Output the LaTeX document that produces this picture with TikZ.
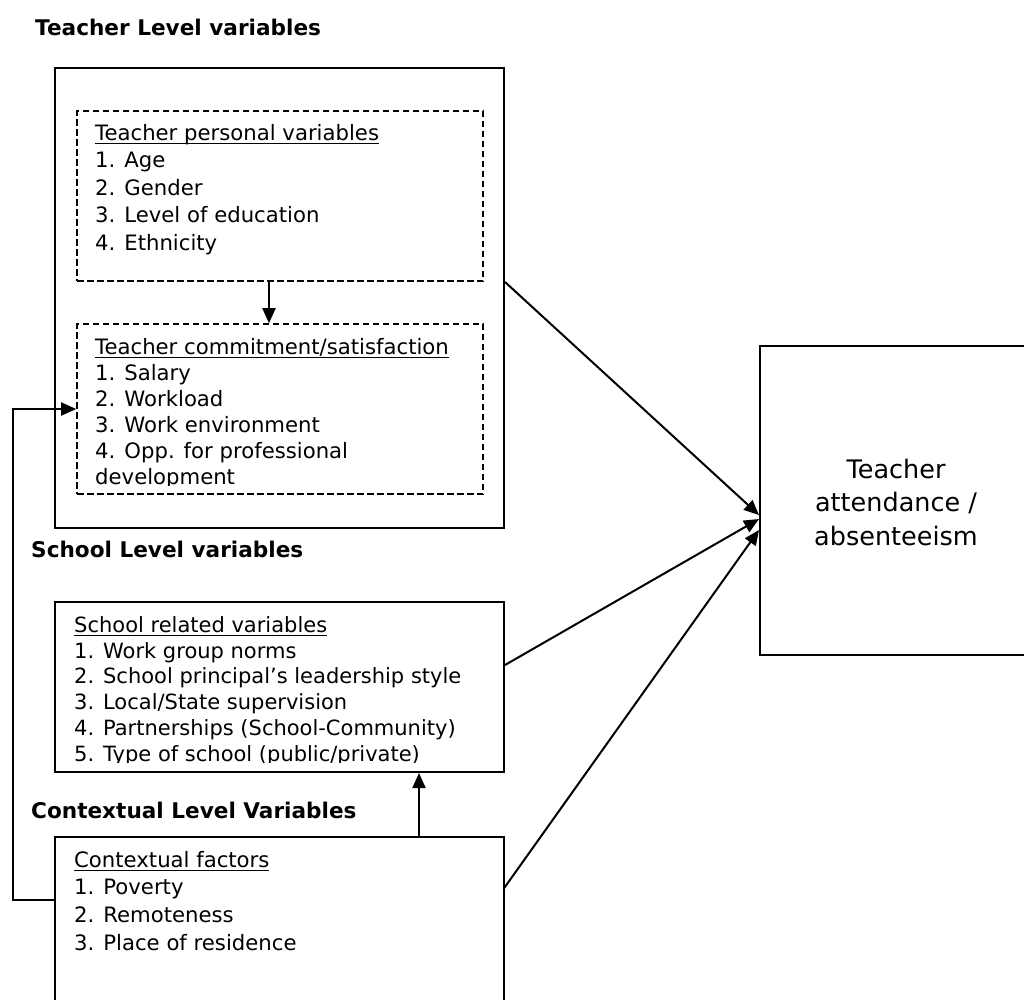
\documentclass[tikz,border=0pt]{standalone}
\usepackage{fontspec}
\setmainfont{DejaVu Sans}
\usetikzlibrary{arrows.meta,calc}
\newcommand\myul[1]{\setbox0\hbox{#1}\rlap{\rule[-4pt]{\wd0}{1.6pt}}\box0}
\begin{document}
\begin{tikzpicture}[x=1pt,y=-1pt,
  solidbx/.style={draw=black,line width=2pt,inner sep=0pt},
  dashbx/.style={draw=black,line width=1.6pt,dash pattern=on 6.5pt off 3.5pt,inner sep=0pt},
  plainbx/.style={inner sep=0pt},
  arrowln/.style={line width=2pt,-{Triangle[length=15pt,width=13pt]}},
  leveltxt/.style={inner sep=0pt,anchor=base west,font=\fontsize{21.6}{25}\selectfont\bfseries},
  bodytxt/.style={inner sep=0pt,anchor=north west,align=left}
]
\useasboundingbox (0,0) rectangle (1024,999);

% level labels
\node[leveltxt] (tlev) at (35,35) {Teacher Level variables};
\node[leveltxt] (slev) at (31,557) {School Level variables};
\node[leveltxt] (clev) at (31,818) {Contextual Level Variables};

% boxes
\node[solidbx,minimum width=449pt,minimum height=460pt] (tbox) at (279.5,298) {};
\node[dashbx,minimum width=406pt,minimum height=170pt] (pers) at (280,196) {};
\node[dashbx,minimum width=406pt,minimum height=170pt] (comm) at (280,409) {};
\node[solidbx,minimum width=449pt,minimum height=170pt] (school) at (279.5,687) {};
\node[plainbx,minimum width=449pt,minimum height=170pt] (ctx) at (279.5,922) {};
\draw[line width=2pt] (ctx.south west) -- (ctx.north west) -- (ctx.north east) -- (ctx.south east);
\node[solidbx,minimum width=290pt,minimum height=309pt] (out) at (905,500.5) {};

% texts
\node[bodytxt,font=\fontsize{21.2}{27.5}\selectfont] (perstxt) at (95,120.75)
 {\strut\myul{Teacher personal variables}\\1. Age\\2. Gender\\3. Level of education\\4. Ethnicity};

\begin{scope}
\clip (60,330) rectangle (480,485.5);
\node[bodytxt,font=\fontsize{21.2}{26}\selectfont] (commtxt) at (95,335.8)
 {\strut\myul{Teacher commitment/satisfaction}\\1. Salary\\2. Workload\\3. Work environment\\4. Opp. for professional\\development};
\end{scope}

\begin{scope}
\clip (60,605) rectangle (500,762.5);
\node[bodytxt,font=\fontsize{21}{25.8}\selectfont] (schooltxt) at (74,613.94)
 {\strut\myul{School related variables}\\1. Work group norms\\2. School principal’s leadership style\\3. Local/State supervision\\4. Partnerships (School-Community)\\5. Type of school (public/private)};
\end{scope}

\node[bodytxt,font=\fontsize{21.2}{27.7}\selectfont] (ctxtxt) at (74,847.6)
 {\strut\myul{Contextual factors}\\1. Poverty\\2. Remoteness\\3. Place of residence};

\node[inner sep=0pt,anchor=north,align=center,font=\fontsize{25.5}{33.5}\selectfont] (outtxt) at (896,454.55)
 {\strut Teacher\\attendance /\\absenteeism};

% connectors
\coordinate (ax1) at (269,300);
\coordinate (ax2) at (419,800);
\draw[arrowln] (pers.south -| ax1) -- (comm.north -| ax1);
\draw[arrowln] (ctx.north -| ax2) -- (school.south -| ax2);
\draw[arrowln] ([yshift=22pt]ctx.west) -- ++(-42,0) |- (comm.west);
\draw[arrowln] ([yshift=16pt]tbox.east) -- ([yshift=-14.5pt]out.west);
\draw[arrowln] ([yshift=22pt]school.east) -- ([yshift=-18.5pt]out.west);
\draw[arrowln] ([yshift=34pt]ctx.east) -- ([yshift=-29.5pt]out.west);
\end{tikzpicture}
\end{document}
